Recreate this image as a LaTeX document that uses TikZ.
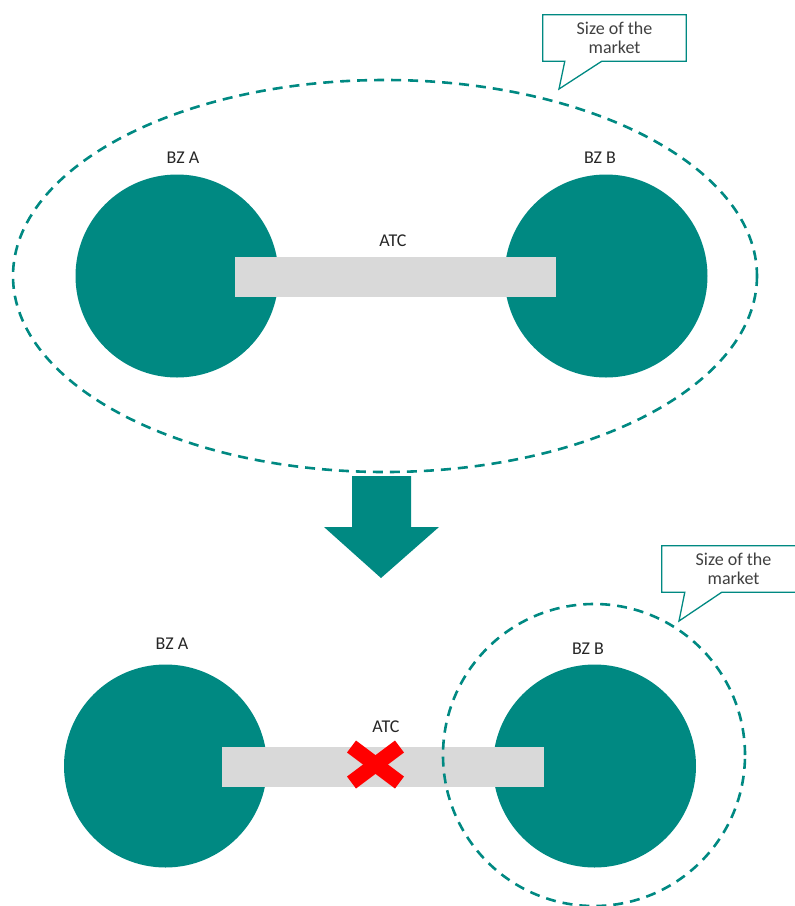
\documentclass[tikz,border=0pt]{standalone}
\usepackage{fontspec}
\setmainfont{Carlito}
\usetikzlibrary{calc}
\definecolor{teal1}{RGB}{0,137,130}
\definecolor{bargray}{RGB}{217,217,217}
\definecolor{txtgray}{RGB}{64,64,64}
\begin{document}
\begin{tikzpicture}[x=1pt,y=-1pt,
  zone/.style={circle, fill=teal1, minimum size=203pt, inner sep=0pt},
  atcbar/.style={rectangle, fill=bargray, minimum height=40pt, inner sep=0pt},
  lbl/.style={font=\fontsize{18}{21}\selectfont, text=black!85, inner sep=0pt},
  marketline/.style={draw=teal1, line width=2.6pt, dash pattern=on 10pt off 7pt},
  callbox/.style={rectangle, minimum width=143pt, minimum height=46pt, inner sep=0pt,
    align=center, font=\fontsize{18}{19}\selectfont, text=txtgray},
  callline/.style={draw=teal1, line width=1.3pt, fill=white, line join=miter},
  arrowshape/.style={fill=teal1},
  cross/.style={draw=red, line width=15pt}
]
\clip (0,0) rectangle (795,906);
\useasboundingbox (0,0) rectangle (795,906);

% ---------- top ----------
\node[zone] (A1) at (177,276) {};
\node[zone] (B1) at (606,276) {};
\node[atcbar, minimum width=321pt] (T1) at (395.5,277) {};
\node[lbl] (ATC1) at (393,241) {ATC};
\node[lbl] (LA1) at (183,158) {BZ A};
\node[lbl] (LB1) at (600,158) {BZ B};
\path[marketline] (385,276) ellipse [x radius=372, y radius=196];

\coordinate (P1) at (559,89);
\node[callbox] (C1) at (614.5,38) {};
\path[callline] (C1.north west) -- (C1.north east) -- (C1.south east)
  -- ($(C1.south west)+(59,0)$) -- (P1) -- ($(C1.south west)+(22,0)$)
  -- (C1.south west) -- cycle;
\node[callbox] (CT1) at (C1.center) {Size of the\\market};

% ---------- arrow ----------
\fill[arrowshape] (352,476) -- (411,476) -- (411,527) -- (439,527) -- (381,578)
  -- (324,527) -- (352,527) -- cycle;

% ---------- bottom ----------
\node[zone] (A2) at (165.5,766) {};
\node[zone] (B2) at (594.5,766) {};
\node[atcbar, minimum width=322pt] (T2) at (383,766.5) {};
\node[lbl] (ATC2) at (386,727) {ATC};
\node[lbl] (LA2) at (172,644) {BZ A};
\node[lbl] (LB2) at (588,649) {BZ B};
\coordinate (X0) at (375.5,764.5);
\draw[cross] ($(X0)+(-24,-18)$) -- ($(X0)+(24,18)$);
\draw[cross] ($(X0)+(-24,18)$) -- ($(X0)+(24,-18)$);
\node[circle, marketline, minimum size=302pt, inner sep=0pt] (M2) at (594,755) {};

\coordinate (P2) at (679,621);
\node[callbox] (C2) at (733.5,569) {};
\path[callline] (C2.north west) -- (C2.north east) -- (C2.south east)
  -- ($(C2.south west)+(60,0)$) -- (P2) -- ($(C2.south west)+(23,0)$)
  -- (C2.south west) -- cycle;
\node[callbox] (CT2) at (C2.center) {Size of the\\market};
\end{tikzpicture}
\end{document}
